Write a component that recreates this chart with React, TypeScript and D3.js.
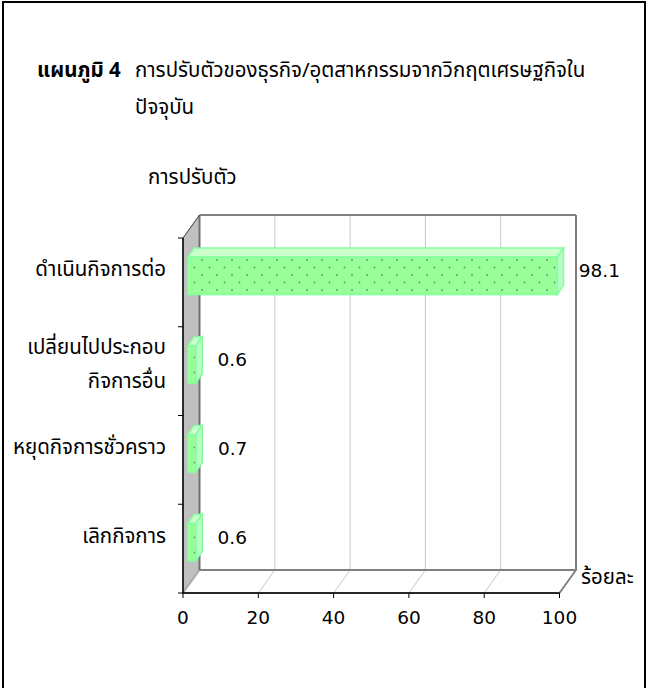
import * as d3 from "d3";

const categories = ["ดำเนินกิจการต่อ", "เปลี่ยนไปประกอบ\nกิจการอื่น", "หยุดกิจการชั่วคราว", "เลิกกิจการ"];
const values = [98.1, 0.6, 0.7, 0.6];
const xTicks = [0, 20, 40, 60, 80, 100];

const titleBold = "แผนภูมิ 4";
const titleLines = ["การปรับตัวของธุรกิจ/อุตสาหกรรมจากวิกฤตเศรษฐกิจใน", "ปัจจุบัน"];
const yAxisTitle = "การปรับตัว";
const xAxisTitle = "ร้อยละ";

const W = 648;
const H = 688;
// front plane of the 3D box
const left = 183;
const right = 559.5;
const top = 238;
const bottom = 593;
// depth offset (front -> back)
const DX = 16.5;
const DY = -23;
const f0 = 0.28;
const f1 = 0.68;

const thai = "'Noto Sans Thai', 'Noto Sans', 'DejaVu Sans', sans-serif";
const num = "'DejaVu Sans', sans-serif";
const thaiSize = 20.5;
const numSize = 18.5;

export default function App() {
  const x = d3.scaleLinear().domain([0, 100]).range([left, right]);
  const y = d3.scaleBand<string>().domain(categories).range([top, bottom]).paddingInner(0.58).paddingOuter(0.29);
  const step = y.step();

  const bx = DX * f0;
  const by = DY * f0;
  const ddx = DX * (f1 - f0);
  const ddy = DY * (f1 - f0);

  return (
    <svg width={W} height={H} style={{ position: "absolute", left: 0, top: 0, background: "#fff" }}>
      <defs>
        <pattern id="dots" width={15} height={15} patternUnits="userSpaceOnUse" x={4} y={2}>
          <rect width={15} height={15} fill="#99ff99" />
          <circle cx={3} cy={3} r={0.9} fill="#4f9a6a" />
          <circle cx={10.5} cy={10.5} r={0.9} fill="#4f9a6a" />
        </pattern>
      </defs>
      <rect x={3} y={2} width={642} height={700} fill="#fff" stroke="#000" strokeWidth={2} />

      {/* title */}
      <text x={37} y={70} dominantBaseline="central" fontFamily={thai} fontSize={thaiSize} fontWeight="bold" fill="#000">{titleBold}</text>
      {titleLines.map((t, i) => (
        <text key={i} x={135} y={70 + i * 37} dominantBaseline="central" fontFamily={thai} fontSize={thaiSize} fill="#000">{t}</text>
      ))}
      <text x={148} y={177} dominantBaseline="central" fontFamily={thai} fontSize={thaiSize} fill="#000">{yAxisTitle}</text>

      {/* left wall */}
      <polygon points={`${left},${top} ${left + DX},${top + DY} ${left + DX},${bottom + DY} ${left},${bottom}`} fill="#c0c0c0" stroke="#808080" strokeWidth={1} />
      {/* floor */}
      <polygon points={`${left},${bottom} ${left + DX},${bottom + DY} ${right + DX},${bottom + DY} ${right},${bottom}`} fill="#fff" stroke="#808080" strokeWidth={1.5} />
      {/* back wall gridlines */}
      {xTicks.map(t => (
        <g key={t}>
          <line x1={x(t) + DX} x2={x(t) + DX} y1={top + DY} y2={bottom + DY} stroke="#c8c8c8" />
          <line x1={x(t)} x2={x(t) + DX} y1={bottom} y2={bottom + DY} stroke="#c8c8c8" />
        </g>
      ))}
      <line x1={left + DX} x2={right + DX} y1={top + DY} y2={top + DY} stroke="#808080" strokeWidth={2} />
      <line x1={right + DX} x2={right + DX} y1={top + DY} y2={bottom + DY} stroke="#808080" strokeWidth={2} />
      <line x1={left + DX} x2={right + DX} y1={bottom + DY} y2={bottom + DY} stroke="#808080" strokeWidth={2} />
      <line x1={left + DX} x2={left + DX} y1={top + DY} y2={bottom + DY} stroke="#707070" strokeWidth={2} />
      <line x1={right} x2={right + DX} y1={bottom} y2={bottom + DY} stroke="#808080" strokeWidth={1.5} />

      {/* axes */}
      <line x1={left} x2={left} y1={top} y2={bottom} stroke="#000" strokeWidth={1.5} />
      <line x1={left} x2={right} y1={bottom} y2={bottom} stroke="#000" strokeWidth={1.5} />
      <line x1={left} x2={left + DX} y1={top} y2={top + DY} stroke="#555" strokeWidth={1} />
      {d3.range(categories.length + 1).map(i => (
        <line key={i} x1={left - 5} x2={left} y1={top + i * step} y2={top + i * step} stroke="#000" />
      ))}
      {xTicks.map(t => (
        <g key={t}>
          <line x1={x(t)} x2={x(t)} y1={bottom} y2={bottom + 5} stroke="#000" />
          <text x={x(t)} y={617} textAnchor="middle" dominantBaseline="central" fontFamily={num} fontSize={numSize} fill="#000">{t}</text>
        </g>
      ))}
      <text x={581} y={577} dominantBaseline="central" fontFamily={thai} fontSize={thaiSize} fill="#000">{xAxisTitle}</text>

      {/* bars */}
      {categories.map((c, i) => {
        const v = values[i];
        const y0 = (y(c) ?? 0) + by;
        const h = y.bandwidth();
        const x0 = x(0) + bx;
        const x1 = Math.max(x(v) + bx, x0 + 8);
        const cy = y0 + h / 2;
        const lines = c.split("\n");
        const ly = lines.length > 1 ? cy : cy - 6;
        return (
          <g key={c}>
            <polygon points={`${x0},${y0} ${x0 + ddx},${y0 + ddy} ${x1 + ddx},${y0 + ddy} ${x1},${y0}`} fill="#ccffcc" stroke="#80ff9f" strokeWidth={1.5} />
            <polygon points={`${x1},${y0} ${x1 + ddx},${y0 + ddy} ${x1 + ddx},${y0 + h + ddy} ${x1},${y0 + h}`} fill="#b8ffc4" stroke="#80ff9f" strokeWidth={1.5} />
            <rect x={x0} y={y0} width={x1 - x0} height={h} fill="url(#dots)" stroke="#80ff9f" strokeWidth={1.5} />
            <text x={x(v) + 47} y={cy - 5} textAnchor="middle" dominantBaseline="central" fontFamily={num} fontSize={numSize} fill="#000">{v}</text>
            {lines.map((l, j) => (
              <text key={j} x={166} y={ly + (j - (lines.length - 1) / 2) * 34} textAnchor="end" dominantBaseline="central" fontFamily={thai} fontSize={thaiSize} fill="#000">{l}</text>
            ))}
          </g>
        );
      })}
    </svg>
  );
}
